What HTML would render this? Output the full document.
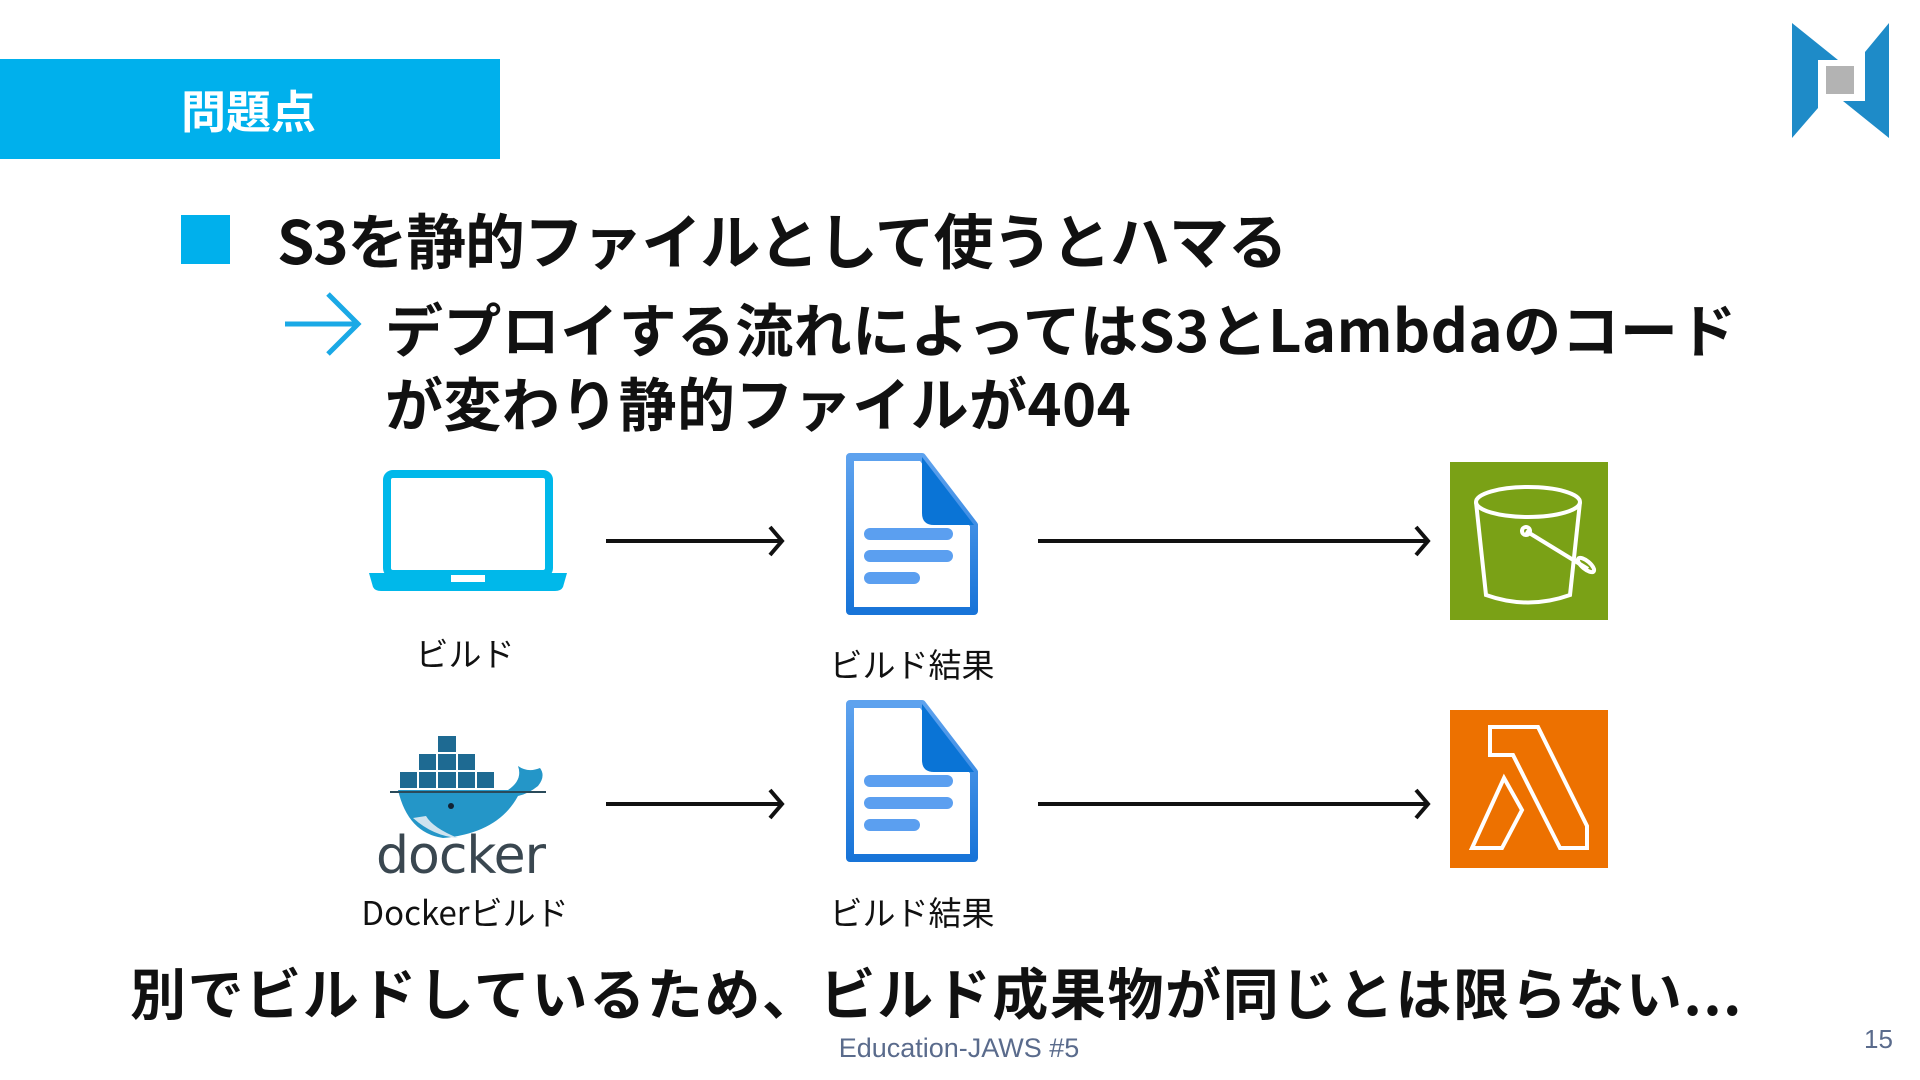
<!DOCTYPE html>
<html><head><meta charset="utf-8"><style>
*{margin:0;padding:0;box-sizing:border-box}
body{width:1920px;height:1080px;background:#fff;position:relative;overflow:hidden;font-family:"Liberation Sans","Noto Sans CJK JP",sans-serif;color:#111}
.a{position:absolute;white-space:nowrap}
.b{font-weight:700;font-family:"Noto Sans CJK JP","Liberation Sans",sans-serif}
.lbl{font-size:33px;font-family:"Noto Sans CJK JP","Liberation Sans",sans-serif;transform:translateX(-50%);line-height:1}
</style></head><body>
<div class="a" style="left:0;top:59px;width:500px;height:100px;background:#00b0ec"></div>
<div class="a b" style="left:181px;top:80px;font-size:45px;color:#fff;line-height:58px">問題点</div>
<svg class="a" style="left:1780px;top:18px" width="130" height="130" viewBox="1780 18 130 130">
<polygon points="1792,23 1838,60 1818,60 1818,108 1792,138" fill="#1e8bc8"/>
<polygon points="1889,23 1889,138 1843,101 1865,101 1865,52" fill="#1e8bc8"/>
<rect x="1826" y="66" width="28" height="28" fill="#b3b3b3"/>
</svg>
<div class="a" style="left:181px;top:215px;width:49px;height:49px;background:#00b0ec"></div>
<div class="a b" style="left:277px;top:202px;font-size:60px;line-height:74px;letter-spacing:-1.2px">S3を静的ファイルとして使うとハマる</div>
<svg class="a" style="left:280px;top:290px" width="90" height="70"><path d="M5,34 H78 M48,4 L78,34 L48,64" stroke="#1aa9e6" stroke-width="5" fill="none"/></svg>
<div class="a b" style="left:385px;top:290px;font-size:58px;line-height:74px;letter-spacing:0.4px">デプロイする流れによってはS3とLambdaのコード<br>が変わり静的ファイルが404</div>

<!-- laptop -->
<svg class="a" style="left:365px;top:465px" width="210" height="130">
<rect x="22" y="9" width="162" height="100" rx="6" fill="none" stroke="#00b8ea" stroke-width="8"/>
<path d="M4,108 H202 L198,122 Q196,126 190,126 H16 Q10,126 8,122 Z" fill="#00b8ea"/>
<rect x="86" y="110" width="34" height="7" fill="#fff"/>
</svg>
<div class="a lbl" style="left:465px;top:636px">ビルド</div>

<!-- docs -->
<svg class="a" style="left:842px;top:453px" width="136" height="165">
<defs><linearGradient id="g" x1="0" y1="0" x2="0" y2="1"><stop offset="0" stop-color="#5ea2ee"/><stop offset="1" stop-color="#1874d8"/></linearGradient></defs>
<path d="M8,4 H80 L132,72 V158 H8 Z" fill="#fff" stroke="url(#g)" stroke-width="8" stroke-linejoin="round"/>
<path d="M80,4 L132,72 H92 Q80,72 80,60 Z" fill="#0a74d6"/>
<rect x="22" y="75" width="89" height="12" rx="6" fill="#5b9ff0"/>
<rect x="22" y="97" width="89" height="12" rx="6" fill="#5b9ff0"/>
<rect x="22" y="119" width="56" height="12" rx="6" fill="#5b9ff0"/>
</svg>
<svg class="a" style="left:842px;top:700px" width="136" height="165">
<path d="M8,4 H80 L132,72 V158 H8 Z" fill="#fff" stroke="url(#g)" stroke-width="8" stroke-linejoin="round"/>
<path d="M80,4 L132,72 H92 Q80,72 80,60 Z" fill="#0a74d6"/>
<rect x="22" y="75" width="89" height="12" rx="6" fill="#5b9ff0"/>
<rect x="22" y="97" width="89" height="12" rx="6" fill="#5b9ff0"/>
<rect x="22" y="119" width="56" height="12" rx="6" fill="#5b9ff0"/>
</svg>
<div class="a lbl" style="left:912px;top:647px">ビルド結果</div>
<div class="a lbl" style="left:912px;top:895px">ビルド結果</div>

<!-- arrows -->
<svg class="a" style="left:0;top:0" width="1920" height="1080">
<g stroke="#111" stroke-width="4" fill="none">
<path d="M606,541 H782 M770,527 L782,541 L770,555"/>
<path d="M1038,541 H1428 M1416,527 L1428,541 L1416,555"/>
<path d="M606,804 H782 M770,790 L782,804 L770,818"/>
<path d="M1038,804 H1428 M1416,790 L1428,804 L1416,818"/>
</g>
</svg>

<!-- S3 -->
<svg class="a" style="left:1450px;top:462px" width="158" height="158">
<rect width="158" height="158" fill="#7aa116"/>
<g fill="none" stroke="#fff" stroke-width="4">
<ellipse cx="78" cy="40" rx="52" ry="15"/>
<path d="M26,40 L36,133 Q78,148 120,133 L130,40"/>
<circle cx="76" cy="69" r="4"/>
<path d="M76,69 L138,107"/>
<ellipse cx="136" cy="103" rx="4" ry="10" transform="rotate(-50 136 103)"/>
</g>
</svg>
<!-- Lambda -->
<svg class="a" style="left:1450px;top:710px" width="158" height="158">
<rect width="158" height="158" fill="#ed7100"/>
<g fill="none" stroke="#fff" stroke-width="4" stroke-linejoin="miter">
<path d="M40,17 H88 L137,116 H137 V138 H110 L63,45 H40 Z"/>
<path d="M54,68 L72,100 L52,138 H22 Z"/>
</g>
</svg>

<!-- docker -->
<svg class="a" style="left:378px;top:728px" width="180" height="110">
<g fill="#1e6a92">
<rect x="60" y="8" width="18" height="16"/>
<rect x="41" y="26" width="17" height="16"/><rect x="60" y="26" width="18" height="16"/><rect x="80" y="26" width="17" height="16"/>
<rect x="22" y="44" width="17" height="16"/><rect x="41" y="44" width="17" height="16"/><rect x="60" y="44" width="18" height="16"/><rect x="80" y="44" width="17" height="16"/><rect x="99" y="44" width="17" height="16"/>
</g>
<path d="M20,62 H130 Q145,52 140,38 Q150,45 162,40 Q168,48 160,58 Q150,66 140,68 Q120,105 65,110 Q30,105 20,62 Z" fill="#2496c8"/>
<path d="M35,90 Q55,108 80,110 Q55,100 48,88 Z" fill="#cfe3ef"/>
<circle cx="73" cy="78" r="3" fill="#123"/>
<path d="M12,64 H168" stroke="#2a4a5a" stroke-width="2"/>
</svg>
<div class="a" style="left:376px;top:826px;font-size:52px;color:#3a4750;font-family:'DejaVu Sans','Liberation Sans',sans-serif;line-height:60px;letter-spacing:-1px">docker</div>
<div class="a lbl" style="left:465px;top:895px">Dockerビルド</div>

<div class="a b" style="left:130px;top:955px;font-size:56px;line-height:74px;letter-spacing:1.6px">別でビルドしているため、ビルド成果物が同じとは限らない...</div>
<div class="a" style="left:959px;top:1033px;transform:translateX(-50%);font-size:27px;color:#5a6b8c;line-height:30px">Education-JAWS #5</div>
<div class="a" style="left:1864px;top:1024px;font-size:26px;color:#5a6b8c;line-height:30px">15</div>
</body></html>
